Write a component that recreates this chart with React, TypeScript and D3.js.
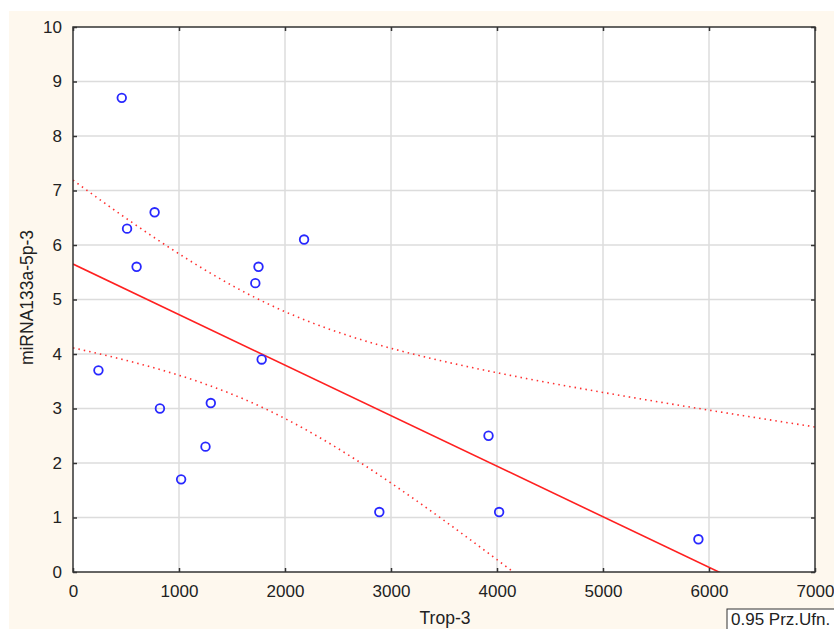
import React, { useRef, useEffect } from "react";
import * as d3 from "d3";

// Trop-3 vs miRNA133a-5p-3
const trop3 = [240, 460, 510, 600, 770, 820, 1020, 1250, 1300, 1720, 1750, 1780, 2180, 2890, 3920, 4020, 5900];
const mirna = [3.7, 8.7, 6.3, 5.6, 6.6, 3.0, 1.7, 2.3, 3.1, 5.3, 5.6, 3.9, 6.1, 1.1, 2.5, 1.1, 0.6];
const xTicks = [0, 1000, 2000, 3000, 4000, 5000, 6000, 7000];
const yTicks = [0, 1, 2, 3, 4, 5, 6, 7, 8, 9, 10];

const W = 834;
const H = 629;
const margin = { left: 73, top: 27, right: 19, bottom: 57 };
const FONT = "'Liberation Sans', Arial, sans-serif";

const App = () => {
  const svgRef = useRef<SVGSVGElement>(null);

  useEffect(() => {
    const svg = d3.select(svgRef.current);
    svg.selectAll("*").remove();

    const x = d3.scaleLinear().domain([0, 7000]).range([margin.left, W - margin.right]);
    const y = d3.scaleLinear().domain([0, 10]).range([H - margin.bottom, margin.top]);

    // cream panel
    svg.append("rect").attr("x", 9).attr("y", 11).attr("width", W - 9).attr("height", H - 11).attr("fill", "#fef8ee");
    svg.append("rect")
      .attr("x", x(0)).attr("y", y(10))
      .attr("width", x(7000) - x(0)).attr("height", y(0) - y(10))
      .attr("fill", "#fff");

    // grid
    svg.append("g").selectAll("line").data(xTicks.slice(1, -1)).join("line")
      .attr("x1", (d) => x(d)).attr("x2", (d) => x(d))
      .attr("y1", y(0)).attr("y2", y(10))
      .attr("stroke", "#dcdcdc").attr("stroke-width", 1.5);
    svg.append("g").selectAll("line").data(yTicks.slice(1, -1)).join("line")
      .attr("x1", x(0)).attr("x2", x(7000))
      .attr("y1", (d) => y(d)).attr("y2", (d) => y(d))
      .attr("stroke", "#dcdcdc").attr("stroke-width", 1.5);

    // regression and 95% confidence band
    const n = trop3.length;
    const mx = d3.mean(trop3)!;
    const my = d3.mean(mirna)!;
    const sxx = d3.sum(trop3, (v) => (v - mx) ** 2);
    const sxy = d3.sum(trop3, (v, i) => (v - mx) * (mirna[i] - my));
    const b = sxy / sxx;
    const a = my - b * mx;
    const sse = d3.sum(trop3, (v, i) => (mirna[i] - (a + b * v)) ** 2);
    const s = Math.sqrt(sse / (n - 2));
    const t = 2.131;
    const xs = d3.range(0, 7001, 25);
    const half = (v: number) => t * s * Math.sqrt(1 / n + (v - mx) ** 2 / sxx);

    svg.append("clipPath").attr("id", "clip").append("rect")
      .attr("x", x(0)).attr("y", y(10))
      .attr("width", x(7000) - x(0)).attr("height", y(0) - y(10));
    const plot = svg.append("g").attr("clip-path", "url(#clip)");

    const ln = d3.line<number[]>().x((d) => x(d[0])).y((d) => y(d[1]));
    plot.append("path")
      .attr("d", ln(xs.map((v) => [v, a + b * v + half(v)])))
      .attr("fill", "none").attr("stroke", "#ff3030").attr("stroke-width", 1.6)
      .attr("stroke-dasharray", "1.5 4");
    plot.append("path")
      .attr("d", ln(xs.map((v) => [v, a + b * v - half(v)])))
      .attr("fill", "none").attr("stroke", "#ff3030").attr("stroke-width", 1.6)
      .attr("stroke-dasharray", "1.5 4");
    plot.append("path")
      .attr("d", ln([[0, a], [7000, a + b * 7000]]))
      .attr("fill", "none").attr("stroke", "#ff2020").attr("stroke-width", 1.6);

    // points
    svg.append("g").selectAll("circle").data(trop3).join("circle")
      .attr("cx", (d) => x(d)).attr("cy", (d, i) => y(mirna[i]))
      .attr("r", 4.3).attr("fill", "none")
      .attr("stroke", "#2828ff").attr("stroke-width", 1.8);

    // frame
    svg.append("rect")
      .attr("x", x(0)).attr("y", y(10))
      .attr("width", x(7000) - x(0)).attr("height", y(0) - y(10))
      .attr("fill", "none").attr("stroke", "#333").attr("stroke-width", 1.5);

    // axes (ticks pointing inward)
    const xAxis = d3.axisBottom(x).tickValues(xTicks).tickSize(-4).tickPadding(13).tickFormat(d3.format("d"));
    const yAxis = d3.axisLeft(y).tickValues(yTicks).tickSize(-4).tickPadding(11).tickFormat(d3.format("d"));
    const gx = svg.append("g").attr("transform", `translate(0,${y(0)})`).call(xAxis);
    const gy = svg.append("g").attr("transform", `translate(${x(0)},0)`).call(yAxis);
    const gxt = svg.append("g").attr("transform", `translate(0,${y(10)})`)
      .call(d3.axisTop(x).tickValues(xTicks).tickSize(-4).tickFormat(() => ""));
    const gyr = svg.append("g").attr("transform", `translate(${x(7000)},0)`)
      .call(d3.axisRight(y).tickValues(yTicks).tickSize(-4).tickFormat(() => ""));
    [gx, gy, gxt, gyr].forEach((g) => {
      g.select(".domain").remove();
      g.selectAll(".tick line").attr("stroke", "#333").attr("stroke-width", 1.5);
      g.selectAll(".tick text")
        .attr("fill", "#222")
        .style("font-family", FONT)
        .style("font-size", "17px");
    });

    // axis titles
    svg.append("text")
      .attr("x", (x(0) + x(7000)) / 2 + 1).attr("y", 624)
      .attr("text-anchor", "middle").attr("fill", "#222")
      .style("font-family", FONT).style("font-size", "17.5px")
      .text("Trop-3");
    svg.append("text")
      .attr("transform", `translate(33,${(y(0) + y(10)) / 2 - 2}) rotate(-90)`)
      .attr("text-anchor", "middle").attr("fill", "#222")
      .style("font-family", FONT).style("font-size", "17.5px")
      .text("miRNA133a-5p-3");

    // legend box
    svg.append("rect")
      .attr("x", 727).attr("y", 609).attr("width", 120).attr("height", 24)
      .attr("fill", "#fff").attr("stroke", "#333").attr("stroke-width", 1);
    svg.append("text")
      .attr("x", 731).attr("y", 625).attr("fill", "#222")
      .style("font-family", FONT).style("font-size", "17px")
      .text("0.95 Prz.Ufn.");
  }, []);

  return (
    <svg
      ref={svgRef}
      width={W}
      height={H}
      style={{ position: "absolute", left: 0, top: 0, background: "#fff" }}
    />
  );
};

export default App;
